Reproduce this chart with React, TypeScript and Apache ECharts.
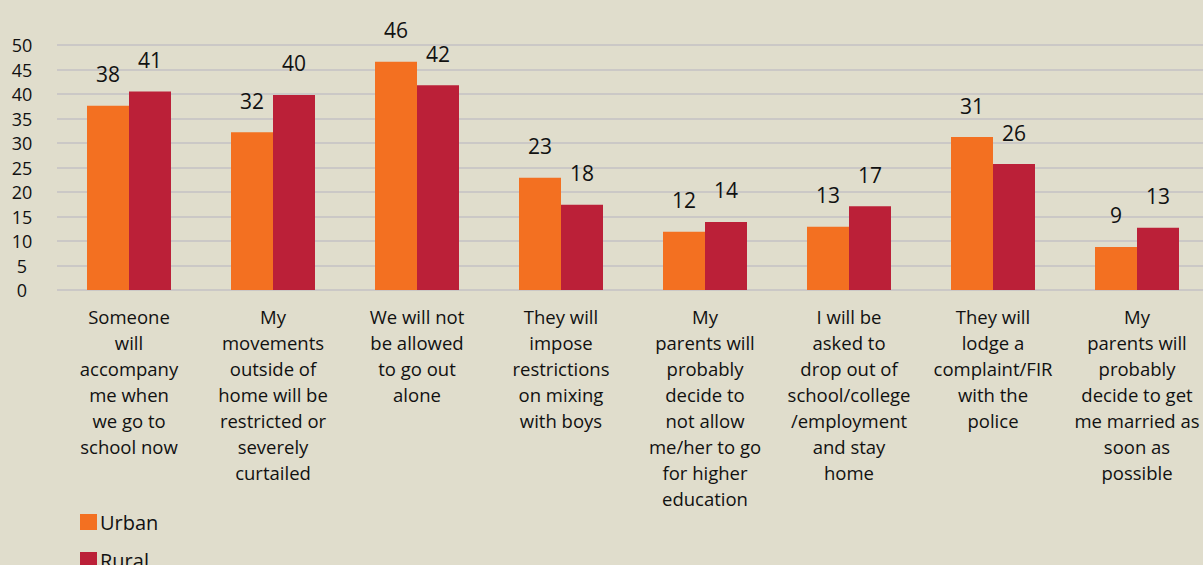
import React, { useEffect, useRef } from "react";
import * as echarts from "echarts";

const categories = [
  "Someone\nwill\naccompany\nme when\nwe go to\nschool now",
  "My\nmovements\noutside of\nhome will be\nrestricted or\nseverely\ncurtailed",
  "We will not\nbe allowed\nto go out\nalone",
  "They will\nimpose\nrestrictions\non mixing\nwith boys",
  "My\nparents will\nprobably\ndecide to\nnot allow\nme/her to go\nfor higher\neducation",
  "I will be\nasked to\ndrop out of\nschool/college\n/employment\nand stay\nhome",
  "They will\nlodge a\ncomplaint/FIR\nwith the\npolice",
  "My\nparents will\nprobably\ndecide to get\nme married as\nsoon as\npossible",
];
const urban = [37.6, 32.2, 46.6, 22.9, 11.9, 12.9, 31.2, 8.8];
const rural = [40.5, 39.8, 41.8, 17.4, 13.9, 17.1, 25.7, 12.7];
const urbanLabels = ["38", "32", "46", "23", "12", "13", "31", "9"];
const ruralLabels = ["41", "40", "42", "18", "14", "17", "26", "13"];

const FONT = "'Open Sans', sans-serif";

const legendBase = {
  orient: "vertical",
  left: 80,
  padding: 0,
  itemWidth: 17,
  itemHeight: 16,
  icon: "rect",
  textStyle: { fontSize: 20, color: "#111", fontFamily: FONT, padding: [0, 0, 0, -2] },
};

export default function App() {
  const ref = useRef<HTMLDivElement>(null);
  useEffect(() => {
    document.body.style.margin = "0";
    document.body.style.overflow = "hidden";
    const chart = echarts.init(ref.current!, null, { renderer: "svg" });
    chart.setOption({
      animation: false,
      backgroundColor: "#e0ddcc",
      textStyle: { fontFamily: FONT },
      legend: [
        { ...legendBase, top: 512, data: ["Urban"] },
        { ...legendBase, top: 550, data: ["Rural"] },
      ],
      grid: { left: 57, right: 0, top: 45, bottom: 275, containLabel: false },
      xAxis: {
        type: "category",
        data: categories,
        axisLine: { show: false },
        axisTick: { show: false },
        axisLabel: {
          interval: 0,
          fontSize: 18.5,
          lineHeight: 26,
          color: "#111",
          fontFamily: FONT,
          margin: 13,
          align: "center",
        },
      },
      yAxis: {
        type: "value",
        min: 0,
        max: 50,
        interval: 5,
        axisLine: { show: false },
        axisTick: { show: false },
        axisLabel: { fontSize: 18, color: "#111", fontFamily: FONT, align: "center", margin: 35 },
        splitLine: { lineStyle: { color: "#cbc8c6", width: 2 } },
      },
      series: [
        {
          name: "Urban",
          type: "bar",
          data: urban,
          barWidth: 42,
          barGap: "0%",
          itemStyle: { color: "#f37021" },
          label: {
            show: true,
            position: "top",
            distance: 21,
            fontSize: 21,
            color: "#111",
            fontFamily: FONT,
            formatter: (p: any) => urbanLabels[p.dataIndex],
          },
        },
        {
          name: "Rural",
          type: "bar",
          data: rural,
          barWidth: 42,
          barGap: "0%",
          itemStyle: { color: "#bb2038" },
          label: {
            show: true,
            position: "top",
            distance: 21,
            fontSize: 21,
            color: "#111",
            fontFamily: FONT,
            formatter: (p: any) => ruralLabels[p.dataIndex],
          },
        },
      ],
    });
    return () => chart.dispose();
  }, []);
  return (
    <div style={{ width: 1203, height: 565, overflow: "hidden", position: "relative" }}>
      <div ref={ref} style={{ width: 1209, height: 565 }} />
    </div>
  );
}
